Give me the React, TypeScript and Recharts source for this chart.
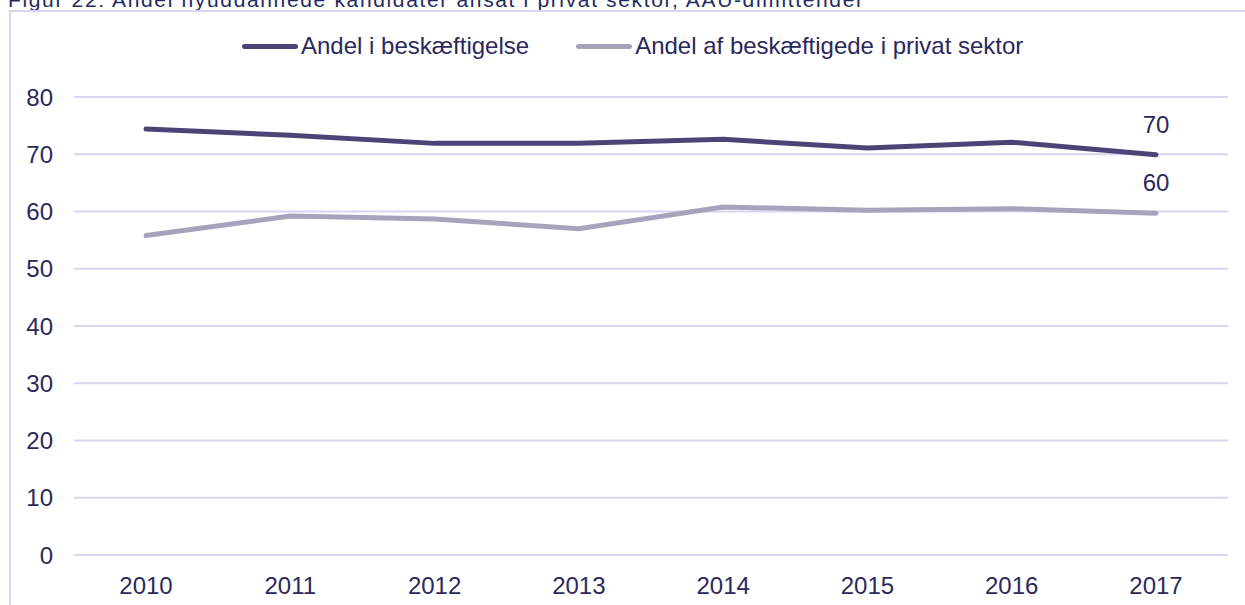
import React from 'react';
import { LineChart, Line, XAxis, YAxis, CartesianGrid, LabelList } from 'recharts';

// Years on the x axis
const years = ['2010', '2011', '2012', '2013', '2014', '2015', '2016', '2017'];

// Share employed (%)
const employed = [74.4, 73.3, 71.9, 71.9, 72.6, 71.1, 72.1, 69.9];

// Share of the employed working in the private sector (%)
const privateSector = [55.8, 59.2, 58.7, 57.0, 60.8, 60.2, 60.5, 59.7];

const yTicks = [0, 10, 20, 30, 40, 50, 60, 70, 80];

const seriesNames = ['Andel i beskæftigelse', 'Andel af beskæftigede i privat sektor'];

const title = 'Figur 22: Andel nyuddannede kandidater ansat i privat sektor, AAU-dimittender';

const DARK = '#4b4577';
const LIGHT = '#a8a3bc';
const TEXT = '#2b285c';
const GRID = '#d9d5f1';
const FONT = '"Liberation Sans", Arial, sans-serif';

const data = years.map((year, i) => ({
  year,
  employed: employed[i],
  privateSector: privateSector[i],
}));

// Only the last point of each line gets a label
const lastLabel = (props: any) => {
  const { x, y, value, index } = props;
  if (index !== years.length - 1) return null;
  return (
    <text x={x} y={y - 22} textAnchor="middle" fontSize={24} fill={TEXT} fontFamily={FONT}>
      {Math.round(value)}
    </text>
  );
};

// Legend sits above the plot, drawn outside the chart so it takes no plot space
const ChartLegend = () => {
  const colors = [DARK, LIGHT];
  return (
    <div
      style={{
        position: 'absolute',
        left: 0,
        top: 32,
        display: 'flex',
        alignItems: 'center',
        paddingLeft: 242,
        fontFamily: FONT,
      }}
    >
      {seriesNames.map((name, i) => (
        <div key={name} style={{ display: 'flex', alignItems: 'center', marginLeft: i === 0 ? 0 : 47 }}>
          <span
            style={{
              display: 'inline-block',
              width: 56,
              height: 5,
              borderRadius: 3,
              background: colors[i],
              marginRight: 3,
            }}
          />
          <span style={{ fontSize: 24, color: TEXT, whiteSpace: 'nowrap' }}>{name}</span>
        </div>
      ))}
    </div>
  );
};

export default function App() {
  return (
    <div style={{ position: 'fixed', left: 0, top: 0, width: 1245, height: 605, background: '#fff', overflow: 'hidden' }}>
      {/* figure title, cut off at the top edge as in the source */}
      <svg width={1245} height={20} style={{ position: 'absolute', left: 0, top: 0 }}>
        <text x={8} y={7} fontSize={21} letterSpacing={1.65} fill="#1e2c5e" fontFamily={FONT}>
          {title}
        </text>
      </svg>
      {/* frame around the chart */}
      <div
        style={{
          position: 'absolute',
          left: 9,
          top: 10,
          width: 1300,
          height: 700,
          borderLeft: `2px solid ${GRID}`,
          borderTop: `2px solid ${GRID}`,
        }}
      />
      <ChartLegend />
      <div style={{ position: 'absolute', left: 0, top: 0 }}>
        <LineChart width={1245} height={605} data={data} margin={{ top: 97, right: 17, bottom: 0, left: 0 }}>
          <CartesianGrid vertical={false} stroke={GRID} strokeWidth={2} />
          <XAxis
            dataKey="year"
            axisLine={false}
            tickLine={false}
            tickSize={0}
            tickMargin={22}
            height={50}
            padding={{ left: 72, right: 72 }}
            tick={{ fill: TEXT, fontSize: 24, fontFamily: FONT }}
            interval={0}
          />
          <YAxis
            domain={[0, 80]}
            ticks={yTicks}
            axisLine={false}
            tickLine={false}
            tickSize={0}
            tickMargin={21}
            width={74}
            tick={{ fill: TEXT, fontSize: 24, fontFamily: FONT }}
          />
          <Line
            type="linear"
            dataKey="employed"
            name={seriesNames[0]}
            stroke={DARK}
            strokeWidth={5}
            strokeLinecap="round"
            dot={false}
            isAnimationActive={false}
          >
            <LabelList dataKey="employed" content={lastLabel} />
          </Line>
          <Line
            type="linear"
            dataKey="privateSector"
            name={seriesNames[1]}
            stroke={LIGHT}
            strokeWidth={5}
            strokeLinecap="round"
            dot={false}
            isAnimationActive={false}
          >
            <LabelList dataKey="privateSector" content={lastLabel} />
          </Line>
        </LineChart>
      </div>
    </div>
  );
}
